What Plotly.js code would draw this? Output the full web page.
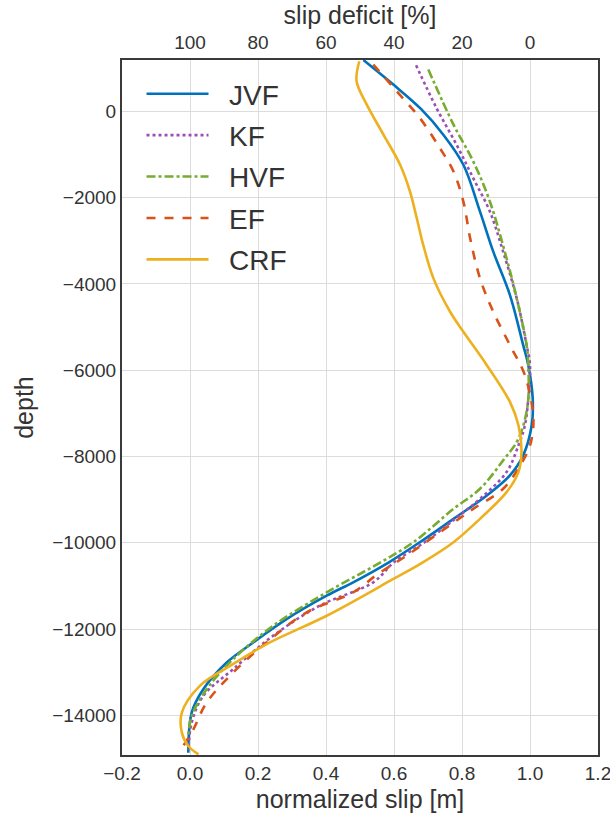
<!DOCTYPE html>
<html><head><meta charset="utf-8">
<script src="https://cdn.plot.ly/plotly-3.0.1.min.js"></script>
<style>html,body{margin:0;padding:0;background:#fff}#chart{width:610px;height:817px}</style>
</head><body><div id="chart"></div>
<script>
// ---- data ----
const seriesNames = ["JVF", "KF", "HVF", "EF", "CRF"];

const jvfSlip  = [0.51, 0.598, 0.68, 0.745, 0.804, 0.853, 0.892, 0.941, 0.98, 0.995, 1.008, 1.005, 0.98, 0.941, 0.873, 0.775, 0.676, 0.585, 0.48, 0.402, 0.284, 0.186, 0.108, 0.039, 0.005, -0.005];
const jvfDepth = [1190, 620, 50, -541, -1238, -2323, -3252, -4258, -5420, -5884, -6659, -7278, -7975, -8439, -8904, -9446, -9988, -10453, -10917, -11227, -11770, -12311, -12776, -13396, -13937, -14866];

const kfSlip  = [0.665, 0.725, 0.784, 0.833, 0.882, 0.921, 0.961, 0.99, 1.0, 0.995, 0.985, 0.966, 0.931, 0.853, 0.78, 0.69, 0.6, 0.539, 0.382, 0.245, 0.127, 0.039, 0.005, -0.005];
const kfDepth = [1068, 77, -774, -1549, -2323, -3252, -4336, -5420, -5884, -6659, -7278, -7743, -8362, -8982, -9446, -9988, -10453, -10917, -11456, -12153, -12930, -13550, -14170, -14800];

const hvfSlip  = [0.701, 0.775, 0.833, 0.882, 0.931, 0.961, 0.99, 0.995, 0.993, 0.966, 0.921, 0.853, 0.775, 0.657, 0.55, 0.402, 0.245, 0.127, 0.049, 0.005, -0.005];
const hvfDepth = [968, -309, -1161, -2091, -3407, -4336, -5420, -5884, -6814, -7588, -8091, -8749, -9214, -9988, -10500, -11150, -11924, -12698, -13396, -14015, -14480];

const efSlip  = [0.539, 0.608, 0.676, 0.735, 0.775, 0.804, 0.824, 0.853, 0.892, 0.941, 0.985, 1.01, 1.0, 0.971, 0.921, 0.833, 0.735, 0.637, 0.55, 0.48, 0.343, 0.225, 0.127, 0.049, 0.01, -0.02];
const efDepth = [1084, 465, -155, -852, -1394, -2091, -2943, -3872, -4646, -5420, -6117, -7123, -7743, -8207, -8749, -9214, -9756, -10298, -10740, -11150, -11614, -12311, -13008, -13705, -14325, -14712];

const crfSlip  = [0.498, 0.49, 0.52, 0.569, 0.618, 0.647, 0.667, 0.686, 0.716, 0.765, 0.804, 0.873, 0.941, 0.966, 0.975, 0.966, 0.931, 0.853, 0.775, 0.685, 0.598, 0.402, 0.235, 0.118, 0.029, -0.024, -0.024, -0.005, 0.025];
const crfDepth = [1161, 697, 155, -541, -1238, -1858, -2478, -3097, -3872, -4646, -5110, -5884, -6736, -7278, -7898, -8362, -8827, -9446, -9988, -10453, -10840, -11692, -12311, -12853, -13318, -13937, -14402, -14712, -14905];

const xTickVals = [-0.2, 0.0, 0.2, 0.4, 0.6, 0.8, 1.0, 1.2];
const xTickText = ["\u22120.2", "0.0", "0.2", "0.4", "0.6", "0.8", "1.0", "1.2"];
const yTickVals = [0, -2000, -4000, -6000, -8000, -10000, -12000, -14000];
const yTickText = ["0", "\u22122000", "\u22124000", "\u22126000", "\u22128000", "\u221210000", "\u221212000", "\u221214000"];
const deficitTicks = [100, 80, 60, 40, 20, 0];

// ---- styles ----
const colors = ["#0072BD", "#9B4FB5", "#77AC30", "#D95319", "#EDB120"];
const dashes = ["solid", "dot", "dashdot", "dash", "solid"];
const xs = [jvfSlip, kfSlip, hvfSlip, efSlip, crfSlip];
const ys = [jvfDepth, kfDepth, hvfDepth, efDepth, crfDepth];

const traces = seriesNames.map((n, i) => ({
  type: "scatter", mode: "lines", name: "\u00a0\u00a0" + n, x: xs[i], y: ys[i],
  line: {color: colors[i], width: 2.6, dash: dashes[i], shape: "spline", smoothing: 1},
  legendgroup: n, hoverinfo: "skip"
}));
// invisible trace to carry the top (slip deficit) axis
traces.push({type: "scatter", mode: "markers", x: [100, 0], y: [0, 0], xaxis: "x2", yaxis: "y",
  marker: {opacity: 0}, showlegend: false, hoverinfo: "skip"});

const font = {family: "Liberation Sans, Arial, sans-serif", color: "#333333"};
const layout = {
  width: 610, height: 817,
  margin: {l: 122, r: 12, t: 60, b: 62},
  paper_bgcolor: "#ffffff", plot_bgcolor: "#ffffff",
  font: Object.assign({size: 19}, font),
  showlegend: true,
  legend: {x: 0.041, y: 0.987, xanchor: "left", yanchor: "top", bgcolor: "rgba(0,0,0,0)",
    font: Object.assign({size: 28}, font), tracegroupgap: 2, itemwidth: 62, traceorder: "grouped"},
  xaxis: {range: [-0.2, 1.2], tickvals: xTickVals, ticktext: xTickText, ticklabeloverflow: "allow",
    showgrid: true, gridcolor: "#dcdcdc", gridwidth: 1, zeroline: false,
    showline: true, linecolor: "#3a3a3a", linewidth: 2, mirror: true, ticks: "",
    tickfont: Object.assign({size: 19}, font),
    title: {text: "normalized slip [m]", font: Object.assign({size: 25}, font), standoff: 8}},
  xaxis2: {overlaying: "x", side: "top", range: [120, -20], tickvals: deficitTicks,
    showgrid: false, zeroline: false, showline: false, ticks: "", ticklabelstandoff: 6,
    tickfont: Object.assign({size: 19}, font),
    title: {text: "slip deficit [%]", font: Object.assign({size: 25}, font), standoff: 0}},
  yaxis: {range: [-14920, 1190], tickvals: yTickVals, ticktext: yTickText,
    showgrid: true, gridcolor: "#dcdcdc", gridwidth: 1, zeroline: false,
    showline: true, linecolor: "#3a3a3a", linewidth: 2, mirror: true, ticks: "",
    tickfont: Object.assign({size: 19}, font),
    title: {text: "depth", font: Object.assign({size: 25}, font), standoff: 12}}
};
Plotly.newPlot("chart", traces, layout, {displayModeBar: false, staticPlot: true});
</script></body></html>
